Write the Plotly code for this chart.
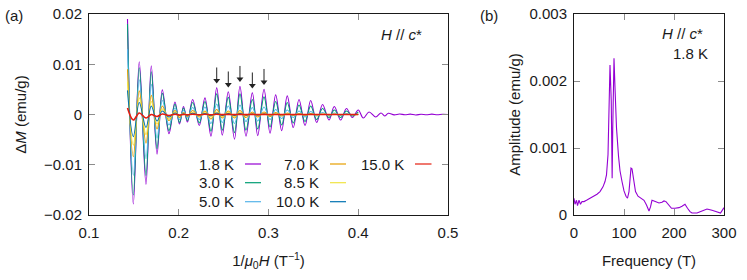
import plotly.graph_objects as go

# ---------------- data: panel (a) -----------------
# 1/mu0H positions of the oscillation extrema (T^-1)
X_EXT = [0.1429, 0.1494, 0.1560, 0.1635, 0.1694, 0.1758, 0.1817, 0.1891, 0.1958, 0.2008,
         0.2053, 0.2097, 0.2155, 0.2229, 0.2292, 0.2359, 0.2423, 0.2485, 0.2552, 0.2621,
         0.2682, 0.2749, 0.2820, 0.2880, 0.2950, 0.3017, 0.3080, 0.3147, 0.3209, 0.3276,
         0.3340, 0.3407, 0.3470, 0.3537, 0.3602, 0.3674, 0.3733, 0.3804, 0.3869, 0.3934,
         0.4000]
# 1.8 K curve continues beyond 0.4
X_TAIL = [0.4056, 0.4120, 0.4194, 0.4253, 0.4298, 0.4335, 0.4400, 0.4460, 0.4520, 0.4580,
          0.4640, 0.4700, 0.4760, 0.4820, 0.4880, 0.4940, 0.5000]
M_TAIL_1p8 = [-0.0007, 0.0005, -0.0005, 0.0003, -0.0003, 0.00025, -0.00008, 0.0001, -0.00005,
              0.00008, -0.0001, 0.00005, -0.00005, 0.00008, -0.00005, 0.00006, 0.0]

M_1p8 = [0.0190, -0.0178, 0.0105, -0.0139, 0.0097, -0.0079, 0.0049, -0.0038, 0.0025, -0.0019,
         0.0016, -0.0015, 0.0030, -0.0022, 0.0033, -0.0043, 0.0053, -0.0041, 0.0045, -0.0049,
         0.0056, -0.0043, 0.0043, -0.0042, 0.0050, -0.0037, 0.0039, -0.0032, 0.0037, -0.0026,
         0.0030, -0.0022, 0.0028, -0.0016, 0.0020, -0.0011, 0.0016, -0.0011, 0.0012, -0.0006,
         0.0009]
M_3p0 = [0.0180, -0.0160, 0.0093, -0.0122, 0.0085, -0.0068, 0.0042, -0.0032, 0.0021, -0.0016,
         0.0013, -0.0012, 0.0024, -0.0017, 0.0026, -0.0033, 0.0041, -0.0031, 0.0034, -0.0036,
         0.0041, -0.0031, 0.0030, -0.0029, 0.0035, -0.0025, 0.0026, -0.0021, 0.0024, -0.0017,
         0.0019, -0.0014, 0.0017, -0.0010, 0.0012, -0.0006, 0.0009, -0.0006, 0.0007, -0.0003,
         0.0005]
M_5p0 = [0.0130, -0.0121, 0.0069, -0.0088, 0.0060, -0.0047, 0.0028, -0.0021, 0.0013, -0.0010,
         0.0008, -0.0007, 0.0014, -0.0010, 0.0015, -0.0018, 0.0021, -0.0016, 0.0017, -0.0018,
         0.0019, -0.0014, 0.0014, -0.0013, 0.0015, -0.0010, 0.0010, -0.0008, 0.0009, -0.0006,
         0.0007, -0.0005, 0.0006, -0.0003, 0.0004, -0.0002, 0.0003, -0.0002, 0.0002, -0.0001,
         0.0001]
M_7p0 = [0.0090, -0.0084, 0.0047, -0.0057, 0.0038, -0.0029, 0.0017, -0.0012, 0.0008, -0.0006,
         0.0004, -0.0004, 0.0008, -0.0005, 0.0007, -0.0009, 0.0010, -0.0007, 0.0007, -0.0007,
         0.0008, -0.0006, 0.0005, -0.0005, 0.0005, -0.0004, 0.0004, -0.0003, 0.0003, -0.0002,
         0.0002, -0.00015, 0.00018, -0.0001, 0.0001, -0.00006, 0.00007, -0.00005, 0.00005, -0.00002,
         0.00003]
M_8p5 = [0.0065, -0.0061, 0.0033, -0.0040, 0.0026, -0.0019, 0.0011, -0.0008, 0.0005, -0.0003,
         0.0003, -0.0002, 0.0004, -0.0003, 0.0004, -0.0005, 0.0005, -0.0004, 0.0004, -0.0004,
         0.0004, -0.0003, 0.0002, -0.0002, 0.0002, -0.00016, 0.00015, -0.0001, 0.0001, -0.00008,
         0.00008, -0.00005, 0.00006, -0.00003, 0.00004, -0.00002, 0.00002, -0.00001, 0.00001, 0.0,
         0.0]
M_10p0 = [0.0048, -0.0044, 0.0024, -0.0026, 0.0017, -0.0013, 0.0007, -0.0005, 0.0003, -0.0002,
          0.00016, -0.00014, 0.00024, -0.00015, 0.0002, -0.00024, 0.00027, -0.00018, 0.00018, -0.00017,
          0.00018, -0.00012, 0.00011, -0.0001, 0.0001, -0.00007, 0.00006, -0.00005, 0.00005, -0.00003,
          0.00003, -0.00002, 0.00002, -0.00001, 0.00001, 0.0, 0.0, 0.0, 0.0, 0.0,
          0.0]
M_15p0 = [0.0013, -0.0011, 0.0003, -0.0007, 0.0000, -0.0004, 0.0001, -0.0002, 0.00005, -0.0001,
          0.00003, -0.00005, 0.00005, -0.00004, 0.00004, -0.00004, 0.00004, -0.00003, 0.00003, -0.00003,
          0.00003, -0.00002, 0.00002, -0.00002, 0.00002, -0.00001, 0.00001, 0.0, 0.0, 0.0,
          0.0, 0.0, 0.0, 0.0, 0.0, 0.0, 0.0, 0.0, 0.0, 0.0,
          0.0]

TEMPS = ["1.8 K", "3.0 K", "5.0 K", "7.0 K", "8.5 K", "10.0 K", "15.0 K"]
COLORS = ["#9400d3", "#009e73", "#56b4e9", "#e69f00", "#f0e442", "#0072b2", "#e51e10"]
SERIES = [M_1p8, M_3p0, M_5p0, M_7p0, M_8p5, M_10p0, M_15p0]
ARROW_IDX = [16, 18, 20, 22, 24]   # peaks of the 1.8 K curve marked with arrows

# ---------------- data: panel (b) FFT -----------------
FREQ = [0, 2, 5, 7, 10, 13, 16, 20, 25, 30, 35, 40, 46, 52, 58, 62, 65, 68, 70, 72,
        74.5, 76.3, 77.5, 80, 82, 85, 89, 92, 96, 100, 104, 107, 110, 112, 114, 116, 118, 120,
        123, 128, 134, 140, 145, 148, 150, 153, 156, 160, 165, 170, 176, 180, 184, 189, 195,
        202, 210, 216, 222, 227, 232, 236, 246, 256, 266, 276, 286, 293, 300]
AMP = [0.00025, 0.00016, 0.00022, 0.00014, 0.00022, 0.00016, 0.0002, 0.0002, 0.00022, 0.00024,
       0.00026, 0.00028, 0.00031, 0.00035, 0.00042, 0.0005, 0.0006, 0.0009, 0.0015, 0.00224,
       0.0017, 0.00055, 0.0013, 0.00234, 0.0019, 0.0013, 0.00088, 0.00066, 0.0005, 0.00036,
       0.00028, 0.00025, 0.00035, 0.0005, 0.0007, 0.00069, 0.0006, 0.00045,
       0.00035, 0.00028, 0.00025, 0.00022, 0.00015, 0.0001, 0.00006, 0.00012, 0.00022, 0.00021,
       0.00019, 0.00018, 0.00019, 0.00021, 0.0002, 0.00015, 0.0001,
       0.0001, 0.00011, 0.00013, 0.00016, 0.0001, 0.00005, 0.00003, 0.00003, 0.00006, 0.00009,
       0.00007, 0.00005, 0.00003, 0.00011]

# ---------------- figure geometry (page body margin removed in post_script) ----------
W, H = 747, 280
ML, MT = 89, 14
MR = W - 724
MB = H - 215
PW, PH = W - ML - MR, H - MT - MB


def px(xp):
    return (xp - ML) / PW


def py(yp):
    return (H - MB - yp) / PH


FONT = "Liberation Sans, Arial, Helvetica, sans-serif"
fig = go.Figure()

for i, (lab, col, ys) in enumerate(zip(TEMPS, COLORS, SERIES)):
    xs = list(X_EXT)
    yv = list(ys)
    if i == 0:
        xs += X_TAIL
        yv += M_TAIL_1p8
    fig.add_trace(go.Scatter(
        x=xs, y=yv, mode="lines", name=lab,
        line=dict(color=col, width=1.6 if i == 6 else 1.1, shape="spline", smoothing=1.0),
        xaxis="x", yaxis="y", showlegend=False))

# arrows above selected peaks (shaft + head), placed relative to the peak values
GAP, LEN = 0.00106, 0.003
ax_x, ax_y = [], []
for k in ARROW_IDX:
    ax_x += [X_EXT[k], X_EXT[k], None]
    ax_y += [M_1p8[k] + GAP + LEN, M_1p8[k] + GAP + 0.0005, None]
fig.add_trace(go.Scatter(x=ax_x, y=ax_y, mode="lines", line=dict(color="#222222", width=1),
                         xaxis="x", yaxis="y", showlegend=False, hoverinfo="skip"))
fig.add_trace(go.Scatter(x=[X_EXT[k] for k in ARROW_IDX],
                         y=[M_1p8[k] + GAP + 0.0004 for k in ARROW_IDX],
                         mode="markers",
                         marker=dict(symbol="triangle-down", size=6, color="#222222", line=dict(width=0)),
                         xaxis="x", yaxis="y", showlegend=False, hoverinfo="skip"))

fig.add_trace(go.Scatter(x=FREQ, y=AMP, mode="lines", name="FFT 1.8 K",
                         line=dict(color=COLORS[0], width=1.1),
                         xaxis="x2", yaxis="y2", showlegend=False))

axis_common = dict(ticks="inside", ticklen=6, tickwidth=1, tickcolor="#8c8c8c",
                   showline=True, linecolor="#1a1a1a", linewidth=1, mirror="ticks",
                   showgrid=False, zeroline=False, automargin=False,
                   ticklabeloverflow="allow",
                   tickfont=dict(size=15, color="#1a1a1a", family=FONT))

fig.update_layout(
    width=W, height=H,
    margin=dict(l=ML, r=MR, t=MT, b=MB),
    paper_bgcolor="white", plot_bgcolor="white",
    font=dict(family=FONT, size=15, color="#1a1a1a"),
    showlegend=False,
    xaxis=dict(domain=[0, px(448)], range=[0.1, 0.5], tick0=0.1, dtick=0.1,
               title=dict(text="1/<i>μ</i><sub>0</sub><i>H</i> (T<sup>−1</sup>)", standoff=15,
                          font=dict(size=15)),
               ticklabelstandoff=4, **axis_common),
    yaxis=dict(domain=[0, 1], range=[-0.02, 0.02], tick0=-0.02, dtick=0.01,
               title=dict(text="Δ<i>M</i> (emu/g)", standoff=13, font=dict(size=15)),
               ticklabelstandoff=3, **axis_common),
    xaxis2=dict(domain=[px(574), 1], range=[0, 300], tick0=0, dtick=100, anchor="y2",
                title=dict(text="Frequency (T)", standoff=15, font=dict(size=15)),
                ticklabelstandoff=4, **axis_common),
    yaxis2=dict(domain=[0, 1], range=[0, 0.003], tick0=0, dtick=0.001, anchor="x2",
                title=dict(text="Amplitude (emu/g)", standoff=5, font=dict(size=15)),
                ticklabelstandoff=3, **axis_common),
)

ann = []
# panel labels
ann.append(dict(text="(a)", x=px(3), y=py(16), xref="paper", yref="paper",
                xanchor="left", yanchor="middle", showarrow=False))
ann.append(dict(text="(b)", x=px(478), y=py(16), xref="paper", yref="paper",
                xanchor="left", yanchor="middle", showarrow=False))
# field direction labels
ann.append(dict(text="<i>H</i> // <i>c</i>*", x=px(424), y=py(35), xref="paper", yref="paper",
                xanchor="right", yanchor="middle", showarrow=False))
ann.append(dict(text="<i>H</i> // <i>c</i>*", x=px(705), y=py(33), xref="paper", yref="paper",
                xanchor="right", yanchor="middle", showarrow=False))
ann.append(dict(text="1.8 K", x=px(710), y=py(53), xref="paper", yref="paper",
                xanchor="right", yanchor="middle", showarrow=False))

# legend (text left of line sample, column-major like the original)
col_text_right = [236, 320.7, 406]
col_line = [(245, 261), (330, 346), (415, 431.5)]
row_y = [164, 182.7, 201.7]
shapes = []
for i, (lab, col) in enumerate(zip(TEMPS, COLORS)):
    c, r = i // 3, i % 3
    ann.append(dict(text=lab, x=px(col_text_right[c]), y=py(row_y[r]), xref="paper", yref="paper",
                    xanchor="right", yanchor="middle", showarrow=False))
    x0, x1 = col_line[c]
    shapes.append(dict(type="line", xref="paper", yref="paper",
                       x0=px(x0), x1=px(x1), y0=py(row_y[r]), y1=py(row_y[r]),
                       line=dict(color=col, width=1.2)))

fig.update_layout(annotations=ann, shapes=shapes)
fig.write_html("out.html",
               config={"displayModeBar": False, "staticPlot": True},
               post_script="document.body.style.margin='0px';document.body.style.overflow='hidden';")
